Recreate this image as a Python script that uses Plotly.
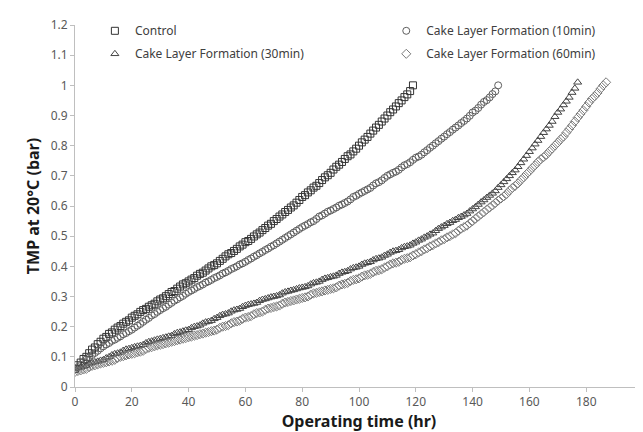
import plotly.graph_objects as go

control_t = list(range(0, 120))
control_tmp = [
    0.060, 0.072, 0.081, 0.093, 0.100, 0.112, 0.124, 0.131, 0.142, 0.150,
    0.160, 0.166, 0.176, 0.181, 0.190, 0.197, 0.202, 0.210, 0.216, 0.221,
    0.230, 0.236, 0.241, 0.249, 0.255, 0.259, 0.266, 0.271, 0.276, 0.284,
    0.290, 0.294, 0.301, 0.308, 0.315, 0.318, 0.326, 0.333, 0.340, 0.344,
    0.350, 0.356, 0.361, 0.369, 0.375, 0.379, 0.386, 0.393, 0.400, 0.404,
    0.410, 0.418, 0.425, 0.433, 0.440, 0.444, 0.451, 0.458, 0.466, 0.472,
    0.480, 0.484, 0.491, 0.499, 0.506, 0.512, 0.520, 0.527, 0.535, 0.541,
    0.550, 0.557, 0.565, 0.572, 0.580, 0.587, 0.595, 0.602, 0.611, 0.620,
    0.630, 0.636, 0.645, 0.652, 0.661, 0.667, 0.676, 0.686, 0.695, 0.702,
    0.710, 0.721, 0.730, 0.737, 0.746, 0.756, 0.765, 0.771, 0.781, 0.790,
    0.800, 0.811, 0.820, 0.829, 0.840, 0.850, 0.860, 0.869, 0.880, 0.890,
    0.900, 0.911, 0.920, 0.930, 0.941, 0.950, 0.961, 0.970, 0.981, 1.000,
]

cake10_t = list(range(0, 150))
cake10_tmp = [
    0.060, 0.066, 0.074, 0.083, 0.091, 0.098, 0.106, 0.113, 0.120, 0.128,
    0.135, 0.141, 0.146, 0.153, 0.157, 0.163, 0.168, 0.175, 0.179, 0.185,
    0.190, 0.197, 0.203, 0.209, 0.216, 0.223, 0.229, 0.237, 0.242, 0.249,
    0.255, 0.261, 0.266, 0.273, 0.279, 0.286, 0.291, 0.297, 0.302, 0.309,
    0.315, 0.320, 0.325, 0.331, 0.335, 0.340, 0.346, 0.350, 0.355, 0.361,
    0.365, 0.370, 0.376, 0.380, 0.385, 0.391, 0.395, 0.400, 0.406, 0.410,
    0.415, 0.421, 0.426, 0.432, 0.437, 0.443, 0.448, 0.454, 0.459, 0.465,
    0.470, 0.476, 0.482, 0.488, 0.494, 0.500, 0.506, 0.512, 0.518, 0.524,
    0.530, 0.535, 0.540, 0.546, 0.550, 0.557, 0.565, 0.569, 0.575, 0.581,
    0.585, 0.590, 0.595, 0.601, 0.605, 0.610, 0.615, 0.622, 0.630, 0.634,
    0.640, 0.645, 0.650, 0.655, 0.660, 0.668, 0.675, 0.679, 0.685, 0.693,
    0.700, 0.705, 0.710, 0.714, 0.720, 0.728, 0.735, 0.739, 0.745, 0.753,
    0.760, 0.764, 0.770, 0.778, 0.785, 0.793, 0.800, 0.808, 0.815, 0.823,
    0.830, 0.838, 0.845, 0.853, 0.860, 0.867, 0.875, 0.882, 0.890, 0.899,
    0.910, 0.916, 0.925, 0.936, 0.945, 0.951, 0.960, 0.971, 0.980, 1.000,
]

cake30_t = list(range(0, 178))
cake30_tmp = [
    0.060, 0.063, 0.065, 0.068, 0.070, 0.076, 0.080, 0.083, 0.085, 0.088,
    0.090, 0.096, 0.100, 0.106, 0.110, 0.112, 0.115, 0.121, 0.125, 0.127,
    0.130, 0.133, 0.135, 0.137, 0.140, 0.146, 0.150, 0.152, 0.155, 0.158,
    0.160, 0.163, 0.165, 0.168, 0.170, 0.176, 0.180, 0.182, 0.185, 0.188,
    0.190, 0.196, 0.200, 0.202, 0.205, 0.211, 0.215, 0.217, 0.220, 0.226,
    0.230, 0.236, 0.240, 0.242, 0.245, 0.251, 0.255, 0.257, 0.260, 0.266,
    0.270, 0.273, 0.275, 0.277, 0.280, 0.286, 0.290, 0.292, 0.295, 0.298,
    0.300, 0.302, 0.305, 0.311, 0.315, 0.317, 0.320, 0.322, 0.325, 0.328,
    0.330, 0.332, 0.335, 0.341, 0.345, 0.347, 0.350, 0.356, 0.360, 0.362,
    0.365, 0.367, 0.370, 0.376, 0.380, 0.382, 0.385, 0.391, 0.395, 0.397,
    0.400, 0.406, 0.410, 0.412, 0.415, 0.421, 0.425, 0.427, 0.430, 0.436,
    0.440, 0.446, 0.450, 0.452, 0.455, 0.461, 0.465, 0.467, 0.470, 0.476,
    0.480, 0.486, 0.490, 0.496, 0.500, 0.506, 0.510, 0.518, 0.525, 0.530,
    0.535, 0.541, 0.545, 0.551, 0.555, 0.561, 0.565, 0.570, 0.575, 0.583,
    0.590, 0.597, 0.605, 0.613, 0.620, 0.628, 0.635, 0.642, 0.650, 0.661,
    0.670, 0.680, 0.690, 0.700, 0.710, 0.719, 0.730, 0.743, 0.755, 0.767,
    0.780, 0.792, 0.805, 0.817, 0.830, 0.843, 0.855, 0.867, 0.880, 0.896,
    0.910, 0.921, 0.935, 0.947, 0.960, 0.976, 0.990, 1.010,
]

cake60_t = list(range(0, 188))
cake60_tmp = [
    0.050, 0.053, 0.055, 0.058, 0.060, 0.066, 0.070, 0.072, 0.075, 0.078,
    0.080, 0.082, 0.085, 0.087, 0.090, 0.096, 0.100, 0.102, 0.105, 0.108,
    0.110, 0.112, 0.115, 0.117, 0.120, 0.126, 0.130, 0.132, 0.135, 0.138,
    0.140, 0.142, 0.145, 0.147, 0.150, 0.152, 0.155, 0.157, 0.160, 0.162,
    0.165, 0.167, 0.170, 0.172, 0.175, 0.177, 0.180, 0.182, 0.185, 0.187,
    0.190, 0.196, 0.200, 0.202, 0.205, 0.211, 0.215, 0.217, 0.220, 0.226,
    0.230, 0.232, 0.235, 0.241, 0.245, 0.247, 0.250, 0.256, 0.260, 0.262,
    0.265, 0.267, 0.270, 0.276, 0.280, 0.282, 0.285, 0.287, 0.290, 0.292,
    0.295, 0.297, 0.300, 0.306, 0.310, 0.312, 0.315, 0.317, 0.320, 0.322,
    0.325, 0.327, 0.330, 0.336, 0.340, 0.342, 0.345, 0.351, 0.355, 0.357,
    0.360, 0.366, 0.370, 0.372, 0.375, 0.381, 0.385, 0.387, 0.390, 0.396,
    0.400, 0.406, 0.410, 0.412, 0.415, 0.421, 0.425, 0.427, 0.430, 0.436,
    0.440, 0.446, 0.450, 0.456, 0.460, 0.466, 0.470, 0.476, 0.480, 0.486,
    0.490, 0.496, 0.500, 0.506, 0.510, 0.518, 0.525, 0.530, 0.535, 0.543,
    0.550, 0.558, 0.565, 0.573, 0.580, 0.588, 0.595, 0.602, 0.610, 0.618,
    0.625, 0.632, 0.640, 0.651, 0.660, 0.667, 0.675, 0.686, 0.695, 0.706,
    0.715, 0.726, 0.735, 0.746, 0.755, 0.762, 0.770, 0.781, 0.790, 0.801,
    0.810, 0.821, 0.830, 0.843, 0.855, 0.867, 0.880, 0.893, 0.905, 0.917,
    0.930, 0.943, 0.955, 0.964, 0.975, 0.988, 1.000, 1.010,
]

series_names = ["Control", "Cake Layer Formation (10min)",
                "Cake Layer Formation (30min)", "Cake Layer Formation (60min)"]

x_ticks = [0, 20, 40, 60, 80, 100, 120, 140, 160, 180, 200]
y_ticks = [0, 0.1, 0.2, 0.3, 0.4, 0.5, 0.6, 0.7, 0.8, 0.9, 1.0, 1.1, 1.2]
y_tick_text = ["0", "0.1", "0.2", "0.3", "0.4", "0.5", "0.6", "0.7", "0.8", "0.9", "1", "1.1", "1.2"]

FONT = "Noto Sans"

fig = go.Figure()
specs = [
    (control_t, control_tmp, series_names[0], "square-open", "#333333", "legend", 1),
    (cake10_t, cake10_tmp, series_names[1], "circle-open", "#5e5e5e", "legend2", 1),
    (cake30_t, cake30_tmp, series_names[2], "triangle-up-open", "#444444", "legend", 2),
    (cake60_t, cake60_tmp, series_names[3], "diamond-open", "#7a7a7a", "legend2", 2),
]
for xs, ys, name, sym, col, leg, rank in specs:
    fig.add_trace(go.Scatter(
        x=xs, y=ys, mode="markers", name=name, legend=leg, legendrank=rank,
        legendgroup=name,
        marker=dict(symbol=sym, size=7, color=col, line=dict(width=1, color=col)),
    ))

legend_common = dict(
    font=dict(family=FONT, size=12, color="#404040"),
    bgcolor="rgba(0,0,0,0)", borderwidth=0,
    yanchor="top", xanchor="left", itemwidth=30,
    tracegroupgap=4, traceorder="grouped",
)

fig.update_layout(
    width=643, height=432,
    margin=dict(l=67, r=8, t=15, b=53),
    paper_bgcolor="white", plot_bgcolor="white",
    font=dict(family=FONT, size=12, color="#595959"),
    legend=dict(x=0.035, y=1.024, **legend_common),
    legend2=dict(x=0.548, y=1.024, **legend_common),
    xaxis=dict(
        range=[0, 200], tickvals=x_ticks, showgrid=False, zeroline=False,
        showline=True, linecolor="#bfbfbf", linewidth=1,
        ticks="outside", ticklen=4, tickcolor="#bfbfbf",
        tickfont=dict(family=FONT, size=12, color="#595959"),
        title=dict(text="<b>Operating time (hr)</b>", standoff=4,
                   font=dict(family=FONT, size=16, color="#1a1a1a")),
    ),
    yaxis=dict(
        range=[0, 1.2], tickvals=y_ticks, ticktext=y_tick_text,
        showgrid=False, zeroline=False,
        showline=True, linecolor="#bfbfbf", linewidth=1,
        ticks="outside", ticklen=4, tickcolor="#bfbfbf",
        tickfont=dict(family=FONT, size=12, color="#595959"),
        title=dict(text="<b>TMP at 20°C (bar)</b>", standoff=7,
                   font=dict(family=FONT, size=16, color="#1a1a1a")),
    ),
)

fig.write_html("out.html")
